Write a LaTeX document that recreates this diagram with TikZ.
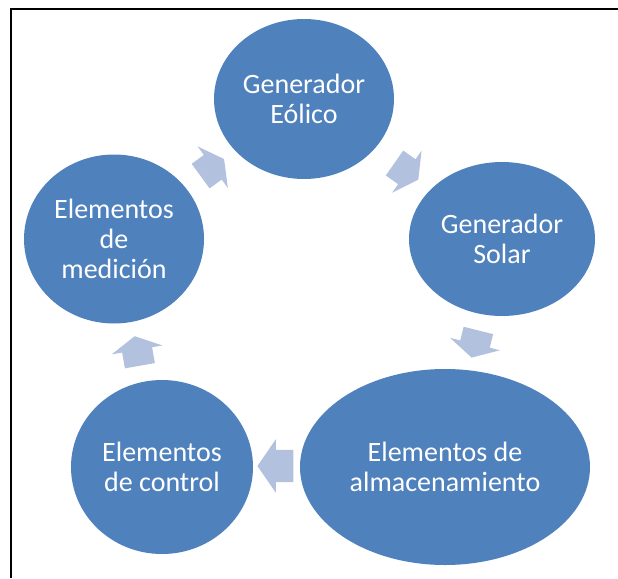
\documentclass[tikz,border=0pt]{standalone}
\usepackage{fontspec}
\setmainfont{Carlito}
\usepackage{tikz}
\usetikzlibrary{shapes.geometric,shapes.arrows}
\definecolor{cycleblue}{RGB}{79,129,189}
\definecolor{arrowblue}{RGB}{178,194,222}
\tikzstyle{node_cycle} = [ellipse, fill=cycleblue, draw=none, inner sep=0pt, text=white, align=center, font={\fontsize{28}{30}\selectfont}]
\tikzstyle{arrow_cycle} = [single arrow, fill=arrowblue, draw=none, inner xsep=0pt, inner ysep=15pt, single arrow head extend=10.5pt, single arrow tip angle=123, minimum height=29pt]

\begin{document}
\begin{tikzpicture}[x=1pt,y=-1pt]
		\useasboundingbox (0,0) rectangle (618,578);
		\draw[line width=2pt] (10.5,578) -- (10.5,9) -- (618,9);
		\node (E) at (304,99) [node_cycle, minimum width=180pt, minimum height=160pt] {Generador\\Eólico};
		\node (S) at (502,239) [node_cycle, minimum width=186pt, minimum height=154pt] {Generador\\Solar};
		\node (A) at (445,467) [node_cycle, minimum width=290pt, minimum height=196pt] {Elementos de\\almacenamiento};
		\node (C) at (162,467) [node_cycle, minimum width=182pt, minimum height=174pt] {Elementos\\de control};
		\node (M) at (114,239) [node_cycle, minimum width=180pt, minimum height=169pt] {Elementos\\de\\medición};
		
		\node (ME) at (209,170) [arrow_cycle, rotate=36] {};
		\node (ES) at (403,169) [arrow_cycle, rotate=-35] {};
		\node (SA) at (476,340) [arrow_cycle, rotate=-104, minimum height=28pt] {};
		\node (AC) at (281,466) [arrow_cycle, rotate=180, inner ysep=16pt, single arrow tip angle=111, minimum height=36pt] {};
		\node (CM) at (138,355) [arrow_cycle, rotate=100, minimum height=30pt] {};
\end{tikzpicture}
\end{document}
